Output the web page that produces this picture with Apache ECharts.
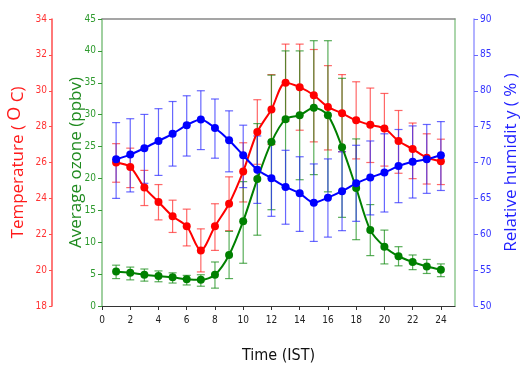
<!DOCTYPE html>
<html>
<head>
<meta charset="utf-8">
<script src="https://cdn.jsdelivr.net/npm/echarts@6/dist/echarts.min.js"></script>
<style>html,body{margin:0;padding:0;background:#fff}#c{width:525px;height:371px}</style>
</head>
<body>
<div id="c"></div>
<script>
const hours = [1,2,3,4,5,6,7,8,9,10,11,12,13,14,15,16,17,18,19,20,21,22,23,24];
const xTicks = [0,2,4,6,8,10,12,14,16,18,20,22,24];

const ozone     = [5.4,5.2,4.9,4.7,4.5,4.2,4.1,4.9,8.0,13.3,19.9,25.7,29.3,29.9,31.1,29.9,24.9,18.5,11.9,9.3,7.8,6.9,6.2,5.7];
const ozoneLow  = [4.3,4.1,3.9,3.8,3.6,3.3,3.1,2.8,4.3,6.7,11.1,15.1,18.6,19.8,20.6,17.9,13.9,10.4,7.9,6.6,6.3,5.7,5.1,4.6];
const ozoneHigh = [6.4,6.1,5.8,5.5,5.2,4.8,4.9,6.9,11.7,19.5,28.6,36.2,40.0,40.0,41.6,41.6,35.7,26.2,15.9,11.9,9.3,8.0,7.3,6.6];

const temp     = [26.0,25.75,24.6,23.8,23.0,22.45,21.1,22.45,23.7,25.5,27.7,28.96,30.45,30.2,29.75,29.1,28.74,28.35,28.1,27.9,27.2,26.75,26.27,26.07];
const tempLow  = [24.9,24.6,23.6,22.8,22.1,21.35,19.9,21.1,22.2,23.8,25.9,27.0,28.3,27.8,27.15,26.7,26.6,26.2,26.0,25.8,25.4,25.1,24.8,24.77];
const tempHigh = [27.05,26.8,25.56,24.77,23.9,23.4,22.3,23.7,25.2,27.1,29.5,30.9,32.6,32.6,32.3,31.4,30.9,30.5,30.15,29.85,28.9,28.2,27.6,27.3];

const rh     = [70.45,71.1,72.0,73.0,74.0,75.2,76.0,74.8,73.1,71.0,69.0,67.8,66.6,65.7,64.4,65.1,66.0,67.1,67.9,68.6,69.5,70.1,70.45,71.0];
const rhLow  = [65.0,65.9,67.1,68.2,69.5,70.9,71.8,70.6,68.7,66.5,64.3,62.5,61.4,60.4,59.0,59.6,60.5,61.8,62.7,63.1,64.4,65.05,65.7,66.1];
const rhHigh = [75.56,76.1,76.7,77.5,78.5,79.3,80.0,78.85,77.2,75.2,73.7,72.9,71.7,70.8,69.8,70.5,71.5,72.4,73.0,74.0,74.6,75.1,75.3,75.7];

const pts = (v) => hours.map((h,i) => [h, v[i]]);
const errs = (lo, hi) => hours.map((h,i) => [h, lo[i], hi[i]]);

function errRender(color) {
  return function (params, api) {
    const x = api.value(0);
    const a = api.coord([x, api.value(1)]);
    const b = api.coord([x, api.value(2)]);
    const w = 4;
    const st = {stroke: color, lineWidth: 1.2};
    return {type: 'group', children: [
      {type: 'line', shape: {x1: a[0], y1: a[1], x2: b[0], y2: b[1]}, style: st},
      {type: 'line', shape: {x1: a[0]-w, y1: a[1], x2: a[0]+w, y2: a[1]}, style: st},
      {type: 'line', shape: {x1: b[0]-w, y1: b[1], x2: b[0]+w, y2: b[1]}, style: st}
    ]};
  };
}

const tickFont = 'DejaVu Sans Condensed, Liberation Sans Narrow, Roboto, sans-serif';
const titleFont = 'Open Sans, sans-serif';

const chart = echarts.init(document.getElementById('c'), null, {renderer: 'canvas'});
chart.setOption({
  animation: false,
  backgroundColor: '#fff',
  grid: {left: 102, right: 70, top: 19, bottom: 65, containLabel: false, outerBoundsMode: 'none'},
  xAxis: [{
    type: 'value', min: 0, max: 25, interval: 2,
    name: 'Time (IST)', nameLocation: 'middle', nameGap: 42, nameMoveOverlap: false,
    nameTextStyle: {color: '#111', fontSize: 16, fontFamily: tickFont},
    axisLine: {onZero: false, lineStyle: {color: '#333', width: 1}},
    axisTick: {show: true, length: 4, lineStyle: {color: '#333'}},
    axisLabel: {color: '#222', fontSize: 10, fontFamily: tickFont, margin: 9, showMaxLabel: false},
    splitLine: {show: false}
  }, {
    type: 'value', position: 'top', min: 0, max: 25,
    axisLine: {show: true, onZero: false, lineStyle: {color: '#888', width: 1.5}},
    axisTick: {show: false}, axisLabel: {show: false}, splitLine: {show: false}
  }],
  yAxis: [{
    type: 'value', min: 0, max: 45, interval: 5, position: 'left',
    name: 'Average ozone (ppbv)', nameLocation: 'middle', nameGap: 17, nameMoveOverlap: false,
    nameTextStyle: {color: '#1f8a1f', fontSize: 17, fontFamily: titleFont},
    axisLine: {show: true, onZero: false, lineStyle: {color: '#80c080', width: 1.5}},
    axisTick: {show: true, length: 4, lineStyle: {color: '#339933'}},
    axisLabel: {color: '#2e9a2e', fontSize: 10, fontFamily: tickFont, margin: 6},
    splitLine: {show: false}
  }, {
    type: 'value', min: 18, max: 34, interval: 2, position: 'left', offset: 50,
    name: 'Temperature ( {sup|O} C)', nameLocation: 'middle', nameGap: 21, nameMoveOverlap: false,
    nameTextStyle: {color: '#ff1a1a', fontSize: 17, fontFamily: titleFont,
      rich: {sup: {color: '#ff1a1a', fontSize: 18, fontFamily: titleFont, padding: [0,0,7,0]}}},
    axisLine: {show: true, onZero: false, lineStyle: {color: '#ff4d4d', width: 1.5}},
    axisTick: {show: true, length: 3, lineStyle: {color: '#ff4d4d'}},
    axisLabel: {color: '#ff3333', fontSize: 10, fontFamily: tickFont, margin: 5},
    splitLine: {show: false}
  }, {
    type: 'value', min: 50, max: 90, interval: 5, position: 'right', offset: 19,
    name: 'Relative humidit y ( % )', nameLocation: 'middle', nameGap: 29, nameMoveOverlap: false,
    nameTextStyle: {color: '#1f1fff', fontSize: 17, fontFamily: titleFont},
    axisLine: {show: true, onZero: false, lineStyle: {color: '#9999ff', width: 1.5}},
    axisTick: {show: true, length: 4, lineStyle: {color: '#6666ff'}},
    axisLabel: {color: '#3333ff', fontSize: 10, fontFamily: tickFont, margin: 6},
    splitLine: {show: false}
  }, {
    type: 'value', min: 0, max: 45, position: 'right', offset: 0,
    axisLine: {show: true, onZero: false, lineStyle: {color: '#90c890', width: 1.5}},
    axisTick: {show: false}, axisLabel: {show: false}, splitLine: {show: false}
  }],
  series: [
    {type: 'custom', yAxisIndex: 1, renderItem: errRender('rgba(255,40,40,0.7)'),
     data: errs(tempLow, tempHigh), encode: {x: 0, y: [1, 2]}, z: 2},
    {type: 'custom', yAxisIndex: 0, renderItem: errRender('rgba(20,140,20,0.7)'),
     data: errs(ozoneLow, ozoneHigh), encode: {x: 0, y: [1, 2]}, z: 2},
    {type: 'custom', yAxisIndex: 2, renderItem: errRender('rgba(40,40,255,0.7)'),
     data: errs(rhLow, rhHigh), encode: {x: 0, y: [1, 2]}, z: 2},
    {type: 'line', yAxisIndex: 1, data: pts(temp), smooth: 0.3, symbol: 'circle', symbolSize: 8,
     lineStyle: {color: '#ff0000', width: 2}, itemStyle: {color: '#ff0000'}, z: 3},
    {type: 'line', yAxisIndex: 0, data: pts(ozone), smooth: 0.3, symbol: 'circle', symbolSize: 8,
     lineStyle: {color: '#008000', width: 2}, itemStyle: {color: '#008000'}, z: 3},
    {type: 'line', yAxisIndex: 2, data: pts(rh), smooth: 0.3, symbol: 'circle', symbolSize: 8,
     lineStyle: {color: '#0000ff', width: 2}, itemStyle: {color: '#0000ff'}, z: 3}
  ]
});
</script>
</body>
</html>
